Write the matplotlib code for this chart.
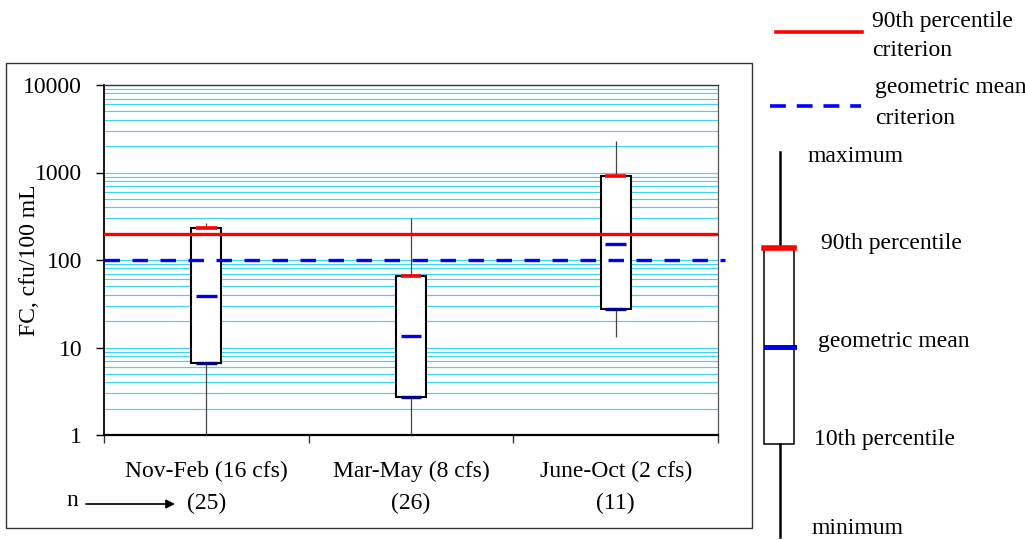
#%%
"""
Fecal coliform by flow season: 10th-90th percentile boxes with
geometric mean, min/max whiskers and the two criteria lines.
"""

#%%
import numpy as np
import matplotlib
matplotlib.use("Agg")
import matplotlib.pyplot as plt
import matplotlib.transforms as mtransforms
from matplotlib.patches import Rectangle
from matplotlib.lines import Line2D
from matplotlib.ticker import LogLocator, FixedLocator, NullFormatter

#%%
# Data (cfu/100 mL)
seasons = ["Nov-Feb (16 cfs)", "Mar-May (8 cfs)", "June-Oct (2 cfs)"]
n_samples = [25, 26, 11]
fc_min = [1, 1, 13.3]
fc_p10 = [6.7, 2.7, 27.5]
fc_gmean = [39, 13.6, 153]
fc_p90 = [232, 65, 904]
fc_max = [265, 300, 2300]

criterion_p90 = 200
criterion_gmean = 100

#%%
plt.rcParams['font.family'] = ['Liberation Serif', 'DejaVu Serif']
FS = 17
W, H = 1025, 540

def fx(px):
    return px / W

def fy(py):
    return 1 - py / H

fig = plt.figure(figsize=(W / 100, H / 100), dpi=100)
ax = fig.add_axes([fx(104), fy(435), fx(718) - fx(104), fy(85) - fy(435)])

x = np.arange(len(seasons))
box_w = 0.147
mark_half = 0.0513

# whiskers behind the boxes
ax.vlines(x, fc_min, fc_max, color='#444444', lw=0.9, zorder=3)
ax.bar(x, np.array(fc_p90) - np.array(fc_p10), bottom=fc_p10, width=box_w,
       facecolor='white', edgecolor='black', lw=1.5, zorder=4)
ax.hlines(fc_p90, x - mark_half, x + mark_half, color='#ff0000', lw=2.6, zorder=5)
ax.hlines(fc_gmean, x - mark_half, x + mark_half, color='#0000ee', lw=2.4, zorder=5)
ax.hlines(fc_p10, x - mark_half, x + mark_half, color='#000080', lw=2.4, zorder=5)

# criteria
ax.axhline(criterion_p90, color='#ff0000', lw=2.4, zorder=6)
ax.axhline(criterion_gmean, xmax=1.012, color='#0000ff', lw=2.4,
           dashes=(4.65, 3.75), clip_on=False, zorder=6)

ax.set_yscale('log')
ax.set_ylim(1, 10000)
ax.set_xlim(-0.5, len(seasons) - 0.5)
ax.set_yticks([1, 10, 100, 1000, 10000])
ax.set_yticklabels(["1", "10", "100", "1000", "10000"], fontsize=FS)
ax.yaxis.set_minor_locator(LogLocator(base=10, subs=np.arange(2, 10)))
ax.yaxis.set_minor_formatter(NullFormatter())
ax.tick_params(axis='y', which='major', direction='out', length=5.8, width=1,
               pad=10, colors='black')
ax.tick_params(axis='y', which='minor', length=0)
ax.yaxis.grid(True, which='both', color='#3fd3f5', lw=0.85)
ax.set_axisbelow(True)

ax.xaxis.set_major_locator(FixedLocator(np.arange(len(seasons) + 1) - 0.5))
ax.set_xticklabels([])
ax.tick_params(axis='x', which='major', direction='out', length=5.8, width=1,
               color='#333333')

ax.spines['left'].set_linewidth(1.3)
ax.spines['bottom'].set_linewidth(1.6)
ax.spines['top'].set_color('#2a3a3a')
ax.spines['top'].set_linewidth(1.0)
ax.spines['right'].set_color('#555555')
ax.spines['right'].set_linewidth(0.9)

# category labels and sample counts
blend = mtransforms.blended_transform_factory(ax.transData, fig.transFigure)
for i, (name, n) in enumerate(zip(seasons, n_samples)):
    ax.text(i, fy(471), name, transform=blend, ha='center', va='center', fontsize=FS)
    ax.text(i, fy(503), f"({n})", transform=blend, ha='center', va='center', fontsize=FS)

fig.text(fx(30), fy(260), "FC, cfu/100 mL", rotation=90, ha='center', va='center',
         fontsize=FS)

fig.text(fx(72), fy(500), "n", ha='center', va='center', fontsize=FS)
ax.annotate("", xy=(175, H - 504), xycoords='figure pixels',
            xytext=(86, H - 504), textcoords='figure pixels',
            arrowprops=dict(arrowstyle='-|>', color='black', lw=1.2,
                            mutation_scale=13, shrinkA=0, shrinkB=0))

# outer chart frame
fig.patches.append(Rectangle((fx(5.5), fy(528)), fx(751.7) - fx(5.5), fy(63) - fy(528),
                             transform=fig.transFigure, fill=False,
                             edgecolor='#333333', lw=1.0))

# legend on the right
fig.lines.append(Line2D([fx(776), fx(862)], [fy(32), fy(32)], transform=fig.transFigure,
                        color='#ff0000', lw=2.6))
fig.text(fx(872), fy(21.7), "90th percentile", va='center', fontsize=FS)
fig.text(fx(872), fy(50), "criterion", va='center', fontsize=FS)

fig.lines.append(Line2D([fx(770), fx(861)], [fy(106), fy(106)], transform=fig.transFigure,
                        color='#0000ff', lw=2.6, dashes=(4.4, 3.0)))
fig.text(fx(875), fy(87), "geometric mean", va='center', fontsize=FS)
fig.text(fx(875), fy(119), "criterion", va='center', fontsize=FS)

fig.lines.append(Line2D([fx(780), fx(780)], [fy(152), fy(247)], transform=fig.transFigure,
                        color='black', lw=1.8))
fig.lines.append(Line2D([fx(780), fx(780)], [fy(444), fy(537)], transform=fig.transFigure,
                        color='black', lw=1.8))
fig.patches.append(Rectangle((fx(764.3), fy(444)), fx(793.7) - fx(764.3), fy(247) - fy(444),
                             transform=fig.transFigure, facecolor='white',
                             edgecolor='black', lw=1.1))
fig.lines.append(Line2D([fx(764.3), fx(793.7)], [fy(247.7), fy(247.7)],
                        transform=fig.transFigure, color='#ff0000', lw=4.0))
fig.lines.append(Line2D([fx(765.7), fx(793.7)], [fy(347), fy(347)],
                        transform=fig.transFigure, color='#0000ee', lw=3.6))

fig.text(fx(808), fy(156), "maximum", va='center', fontsize=FS)
fig.text(fx(821), fy(243), "90th percentile", va='center', fontsize=FS)
fig.text(fx(818), fy(342), "geometric mean", va='center', fontsize=FS)
fig.text(fx(814), fy(440), "10th percentile", va='center', fontsize=FS)
fig.text(fx(811), fy(529), "minimum", va='center', fontsize=FS)

fig.savefig("out.png", dpi=100, facecolor='white')
